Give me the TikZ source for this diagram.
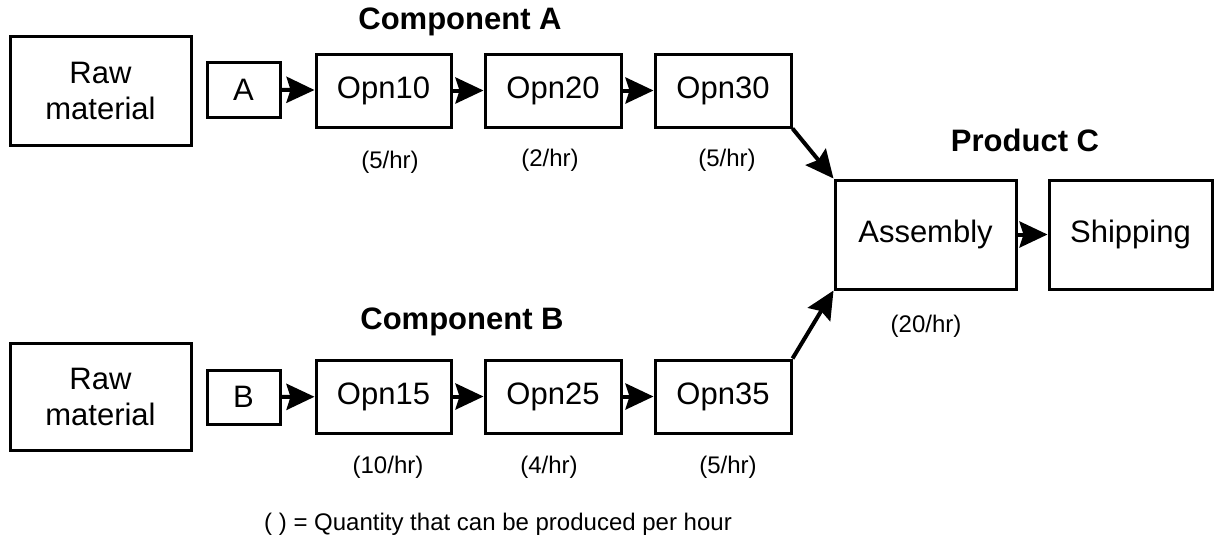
\documentclass[tikz,border=0pt]{standalone}
\usepackage{fontspec}
\setmainfont{Liberation Sans}
\usetikzlibrary{arrows.meta}
\tikzset{
  box/.style={draw=black, line width=3pt, inner sep=0pt, align=center,
    font=\fontsize{31}{36}\selectfont},
  rate/.style={inner sep=0pt, font=\fontsize{24}{28}\selectfont},
  title/.style={inner sep=0pt, font=\bfseries\fontsize{31}{36}\selectfont},
  flow/.style={line width=4pt, -{Stealth[length=28pt,width=26pt,inset=4pt]}}
}
\begin{document}
\begin{tikzpicture}[x=1pt,y=-1pt]
\useasboundingbox (0,0) rectangle (1214,542);
% top row
\node[box, minimum width=181pt, minimum height=109pt] (raw1) at (100.5,90.5) {Raw\\material};
\node[box, minimum width=73pt, minimum height=55pt] (a) at (243.5,89.5) {A};
\node[box, minimum width=135pt, minimum height=73pt] (o10) at (383.5,90.5) {Opn10};
\node[box, minimum width=136pt, minimum height=73pt] (o20) at (553,90.5) {Opn20};
\node[box, minimum width=136pt, minimum height=73pt] (o30) at (723,90.5) {Opn30};
\node[title] (ta) at (460,22) {Component A};
\node[rate] (r10) at (390,162) {(5/hr)};
\node[rate] (r20) at (550,160) {(2/hr)};
\node[rate] (r30) at (727,160) {(5/hr)};
% bottom row
\node[box, minimum width=181pt, minimum height=107pt] (raw2) at (100.5,396.5) {Raw\\material};
\node[box, minimum width=73pt, minimum height=54pt] (b) at (243.5,397) {B};
\node[box, minimum width=135pt, minimum height=73pt] (o15) at (383.5,396.5) {Opn15};
\node[box, minimum width=136pt, minimum height=73pt] (o25) at (553,396.5) {Opn25};
\node[box, minimum width=136pt, minimum height=73pt] (o35) at (723,396.5) {Opn35};
\node[title] (tb) at (462,322) {Component B};
\node[rate] (r15) at (388,467) {(10/hr)};
\node[rate] (r25) at (549,467) {(4/hr)};
\node[rate] (r35) at (728,467) {(5/hr)};
% product
\node[box, minimum width=181pt, minimum height=109pt] (asm) at (925.5,234.5) {Assembly};
\node[box, minimum width=163pt, minimum height=109pt] (ship) at (1130.5,234.5) {Shipping};
\node[title] (tc) at (1025,140) {Product C};
\node[rate] (rasm) at (926,326) {(20/hr)};
\node[rate] (note) at (498,524) {( ) = Quantity that can be produced per hour};
% connectors
\draw[flow] (a) -- (o10);
\draw[flow] (o10) -- (o20);
\draw[flow] (o20) -- (o30);
\draw[flow] (b) -- (o15);
\draw[flow] (o15) -- (o25);
\draw[flow] (o25) -- (o35);
\draw[flow] (o30.south east) -- (asm.north west);
\draw[flow] (o35.north east) -- (asm.south west);
\draw[flow] (asm) -- (ship);
\end{tikzpicture}
\end{document}
